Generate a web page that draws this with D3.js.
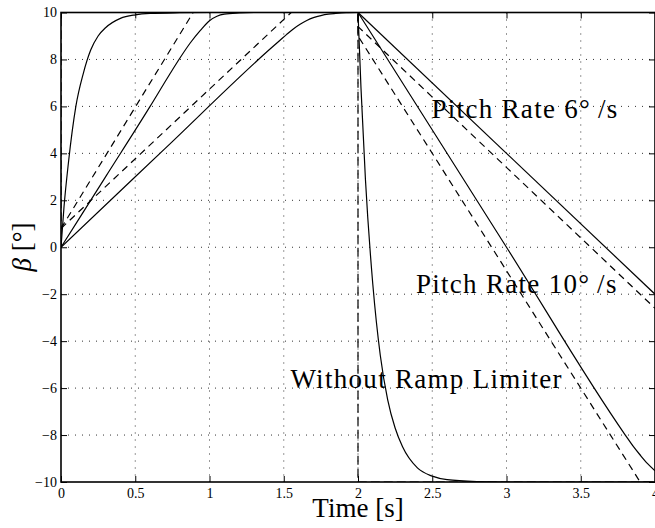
<!DOCTYPE html>
<html>
<head>
<meta charset="utf-8">
<script src="https://cdn.jsdelivr.net/npm/d3@7"></script>
<style>
  body { margin: 0; background: #fff; }
  text { font-family: "Liberation Serif", "Times New Roman", serif; }
</style>
</head>
<body>
<div id="chart"></div>
<script>
// axis ticks
var xTicks = [0, 0.5, 1, 1.5, 2, 2.5, 3, 3.5, 4];
var yTicks = [-10, -8, -6, -4, -2, 0, 2, 4, 6, 8, 10];

// reference step input (dashed)
var stepRef = [[0, 0], [0, 10], [2, 10], [2, -10], [4, -10]];

// without ramp limiter (solid), rise and fall
var noLimUp = [[0, 0], [0.02, 1.7], [0.05, 3.6], [0.1, 6.0], [0.15, 7.4], [0.2, 8.4], [0.25, 9.0],
               [0.3, 9.35], [0.4, 9.75], [0.5, 9.9], [0.6, 9.96], [0.8, 9.99], [1.0, 10], [2, 10]];
var noLimDown = [[2, 10], [2.02, 6.8], [2.05, 2.9], [2.1, -1.6], [2.15, -4.6], [2.2, -6.5], [2.25, -7.7],
                 [2.3, -8.5], [2.4, -9.4], [2.5, -9.75], [2.6, -9.9], [2.8, -9.98], [3.0, -10], [4, -10]];

// pitch rate 10 deg/s (solid response)
var rate10Up = [[0, 0], [0.3, 3.0], [0.6, 6.0], [0.73, 7.35], [0.8, 8.05], [0.87, 8.7], [0.94, 9.25],
                [1.0, 9.65], [1.05, 9.84], [1.1, 9.93], [1.2, 9.98], [1.3, 10], [2, 10]];
var rate10Down = [[2, 10], [3, 0], [3.8, -8.0], [3.85, -8.45], [3.9, -8.85], [3.95, -9.22], [4.0, -9.52]];

// pitch rate 6 deg/s (solid response)
var rate6Up = [[0, 0], [0.7, 4.2], [1.4, 8.4], [1.475, 8.82], [1.52, 9.07], [1.56, 9.28], [1.61, 9.5],
               [1.655, 9.66], [1.7, 9.78], [1.75, 9.87], [1.8, 9.93], [1.85, 9.96], [1.92, 9.99], [2, 10]];
var rate6Down = [[2, 10], [3, 4.0], [4, -2.0]];

// ramp limited references (dashed)
var ramp10 = [[0, 0.8], [0.89, 10], [2, 10], [2, 9.0], [3.9, -10], [4, -10]];
var ramp6 = [[0, 0.8], [1.55, 10], [2, 10], [2, 9.4], [4, -2.6]];

// annotations
var notes = [
    {text: "Pitch Rate 6°\u2009/s", t: 2.495, b: 5.5},
    {text: "Pitch Rate 10°\u2009/s", t: 2.39, b: -1.95},
    {text: "Without Ramp Limiter", t: 1.545, b: -6.0}
];

var width = 655;
var height = 528;
var mLeft = 61, mTop = 12.5, mRight = 655, mBottom = 482;

var svg = d3.select("#chart")
    .append("svg")
    .attr("width", width)
    .attr("height", height);

var x = d3.scaleLinear().domain([0, 4]).range([mLeft, mRight]);
var y = d3.scaleLinear().domain([-10, 10]).range([mBottom, mTop]);

// Grid
var grid = svg.append("g");
grid.selectAll(".gx")
    .data(xTicks.slice(1, -1))
    .enter()
    .append("line")
    .attr("x1", function(d) { return x(d); })
    .attr("x2", function(d) { return x(d); })
    .attr("y1", mTop)
    .attr("y2", mBottom)
    .attr("stroke", "#333")
    .attr("stroke-width", 1)
    .attr("stroke-dasharray", "1,6");
grid.selectAll(".gy")
    .data(yTicks.slice(1, -1))
    .enter()
    .append("line")
    .attr("y1", function(d) { return y(d); })
    .attr("y2", function(d) { return y(d); })
    .attr("x1", mLeft)
    .attr("x2", mRight)
    .attr("stroke", "#333")
    .attr("stroke-width", 1)
    .attr("stroke-dasharray", "1,6");

// Clip for curves
svg.append("clipPath")
    .attr("id", "plot")
    .append("rect")
    .attr("x", mLeft)
    .attr("y", mTop)
    .attr("width", mRight - mLeft)
    .attr("height", mBottom - mTop);

var lines = svg.append("g").attr("clip-path", "url(#plot)");

var smooth = d3.line()
    .x(function(d) { return x(d[0]); })
    .y(function(d) { return y(d[1]); })
    .curve(d3.curveMonotoneX);
var straight = d3.line()
    .x(function(d) { return x(d[0]); })
    .y(function(d) { return y(d[1]); });

[noLimUp, noLimDown, rate10Up, rate10Down, rate6Up, rate6Down].forEach(function(s) {
    lines.append("path")
        .attr("d", smooth(s))
        .attr("fill", "none")
        .attr("stroke", "#000")
        .attr("stroke-width", 1.2);
});

[ramp10, ramp6].forEach(function(s) {
    lines.append("path")
        .attr("d", straight(s))
        .attr("fill", "none")
        .attr("stroke", "#000")
        .attr("stroke-width", 1.2)
        .attr("stroke-dasharray", "7,5");
});

lines.append("path")
    .attr("d", straight(stepRef))
    .attr("fill", "none")
    .attr("stroke", "#000")
    .attr("stroke-width", 1.2)
    .attr("stroke-dasharray", "9,4");

// Axes
function styleAxis(g) {
    g.select(".domain").remove();
    g.selectAll("line").attr("stroke", "#000").attr("stroke-width", 1);
    g.selectAll("text").attr("font-size", 14).attr("fill", "#000")
        .style("font-family", "'Liberation Serif', 'Times New Roman', serif");
}

var fmt = d3.format("");

svg.append("g")
    .attr("transform", "translate(0," + mBottom + ")")
    .call(d3.axisBottom(x).tickValues(xTicks).tickSize(-6).tickPadding(6).tickFormat(fmt))
    .call(styleAxis);

svg.append("g")
    .attr("transform", "translate(" + mLeft + ",0)")
    .call(d3.axisLeft(y).tickValues(yTicks).tickSize(-6).tickPadding(4).tickFormat(fmt))
    .call(styleAxis);

svg.append("g")
    .attr("transform", "translate(0," + mTop + ")")
    .call(d3.axisTop(x).tickValues(xTicks).tickSize(-6).tickFormat(""))
    .call(styleAxis);

svg.append("g")
    .attr("transform", "translate(" + mRight + ",0)")
    .call(d3.axisRight(y).tickValues(yTicks).tickSize(-6).tickFormat(""))
    .call(styleAxis);

// Frame
svg.append("rect")
    .attr("x", mLeft)
    .attr("y", mTop)
    .attr("width", mRight - mLeft)
    .attr("height", mBottom - mTop)
    .attr("fill", "none")
    .attr("stroke", "#000")
    .attr("stroke-width", 1.6);

// Annotations
svg.selectAll(".note")
    .data(notes)
    .enter()
    .append("text")
    .attr("x", function(d) { return x(d.t); })
    .attr("y", function(d) { return y(d.b); })
    .attr("font-size", 27)
    .attr("letter-spacing", 1.3)
    .attr("fill", "#000")
    .text(function(d) { return d.text; });

// Axis labels
svg.append("text")
    .attr("x", 358)
    .attr("y", 517)
    .attr("text-anchor", "middle")
    .attr("font-size", 27)
    .text("Time [s]");

var yl = svg.append("text")
    .attr("transform", "translate(31,247) rotate(-90)")
    .attr("text-anchor", "middle")
    .attr("font-size", 27);
yl.append("tspan").attr("font-style", "italic").text("β");
yl.append("tspan").text(" [°]");
</script>
</body>
</html>
